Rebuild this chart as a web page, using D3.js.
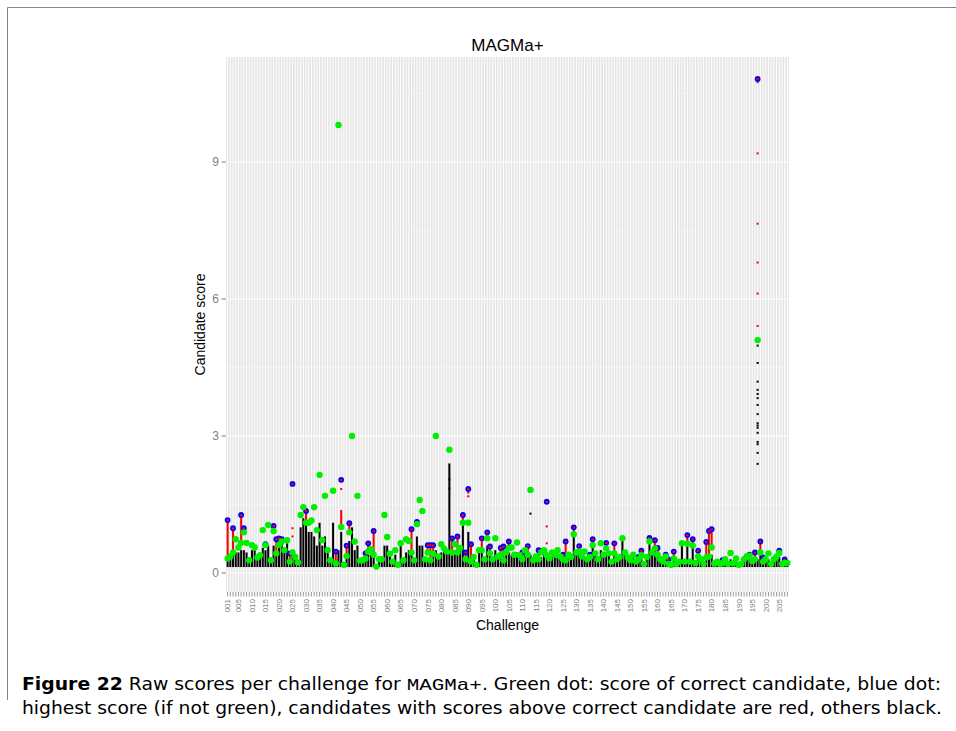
<!DOCTYPE html>
<html>
<head>
<meta charset="UTF-8">
<title>MAGMa+ raw scores per challenge</title>
<script src="https://cdnjs.cloudflare.com/ajax/libs/d3/7.8.5/d3.min.js"></script>
<style>
    body { margin: 0; background: #fff; }
    text { font-family: "Liberation Sans", Arial, sans-serif; }
</style>
</head>
<body>
<script>

// challenge ids 001 .. 208
var challenges = d3.range(1, 209).map(function(i) { return String(i).padStart(3, "0"); });

// score of the correct candidate (green dot)
var correct = [
    .32,.36,.45,.74,.56,.66,.89,.66,.28,.61,
    .56,.34,.39,.94,.61,1.05,.28,.92,.43,.61,
    .69,.50,.72,.25,.45,.35,.23,1.27,1.44,1.10,
    1.10,1.15,1.44,.94,2.15,.72,1.69,.50,.28,1.80,
    .21,9.81,1.01,.18,.37,.89,3.00,.69,1.69,.27,
    .28,.32,.47,.52,.40,.14,.30,.30,1.27,.79,
    .42,.25,.50,.18,.65,.28,.74,.70,.45,.28,
    1.07,1.60,1.36,.30,.45,.28,.42,3.00,.36,.63,
    .54,.47,2.70,.45,.63,.45,.55,1.10,.30,1.10,
    .25,.35,.18,.50,.50,.30,.76,.43,.30,.76,
    .36,.40,.28,.45,.55,.56,.40,.67,.39,.30,
    .50,.40,1.82,.28,.36,.30,.45,.50,.39,.32,
    .45,.40,.50,.36,.30,.28,.40,.35,.85,.45,
    .47,.36,.47,.30,.35,.61,.43,.30,.65,.40,
    .54,.43,.25,.43,.30,.35,.76,.45,.34,.28,
    .40,.25,.30,.39,.20,.35,.69,.45,.54,.40,
    .30,.25,.36,.20,.18,.32,.20,.25,.65,.25,
    .64,.25,.60,.22,.36,.30,.20,.34,.36,.56,
    .21,.25,.20,.22,.30,.20,.44,.22,.32,.18,
    .20,.30,.37,.38,.26,.30,5.10,.45,.25,.30,
    .43,.20,.30,.36,.44,.20,.22,.22
];

// highest candidate score (blue dot when above the correct one)
var best = [
    1.16,.36,.98,.74,.56,1.27,.98,.66,.28,.61,
    .56,.34,.39,.94,.63,1.05,.28,1.03,.74,.76,
    .74,.50,.72,.43,1.95,.35,.23,1.27,1.44,1.36,
    1.10,1.15,1.44,.94,2.15,.72,1.69,.50,.28,1.80,
    .47,9.81,2.04,.18,.60,1.09,3.00,.69,1.69,.27,
    .28,.43,.65,.52,.92,.14,.30,.30,1.27,.79,
    .42,.25,.50,.18,.65,.28,.74,.70,.96,.28,
    1.12,1.60,1.36,.30,.61,.61,.61,3.00,.36,.63,
    .54,.47,2.70,.76,.63,.80,.55,1.27,.45,1.84,
    .63,.35,.18,.50,.76,.30,.89,.58,.30,.76,
    .36,.55,.58,.45,.69,.56,.40,.67,.39,.45,
    .50,.59,1.82,.28,.36,.50,.45,.50,1.56,.32,
    .45,.42,.50,.36,.40,.69,.40,.35,1.00,.45,
    .59,.36,.47,.30,.40,.74,.43,.30,.65,.40,
    .66,.43,.25,.65,.30,.35,.76,.45,.34,.28,
    .40,.25,.35,.49,.20,.35,.77,.45,.72,.55,
    .30,.25,.40,.30,.18,.47,.20,.25,.65,.25,
    .83,.25,.74,.22,.49,.30,.20,.68,.92,.96,
    .21,.25,.20,.28,.30,.20,.44,.22,.32,.18,
    .20,.30,.37,.40,.26,.45,10.82,.69,.34,.30,
    .43,.20,.30,.36,.49,.20,.30,.22
];

// top of the dense block of black (below correct) candidates
var blackTop = [
    .40,.35,.40,.45,.45,.50,.50,.45,.35,.50,
    .50,.45,.40,.55,.50,.60,.45,.60,.55,.70,
    .70,.60,.65,.45,.50,.50,.50,1.00,1.20,1.10,
    .90,.90,.80,.60,1.10,.60,.80,.50,.50,1.10,
    .30,.50,.90,.30,.40,.70,1.00,.50,.60,.30,
    .30,.35,.40,.40,.40,.20,.30,.35,.60,.60,
    .40,.40,.40,.30,.60,.35,.45,.50,.45,.35,
    .80,.60,.60,.30,.30,.30,.35,.50,.35,.45,
    .50,.50,2.40,.50,.50,.50,.60,1.10,.50,.90,
    .45,.40,.40,.45,.50,.40,.60,.45,.35,.50,
    .40,.40,.40,.40,.45,.40,.45,.45,.40,.35,
    .40,.40,.40,.35,.35,.35,.35,.40,.35,.35,
    .35,.35,.35,.35,.35,.35,.35,.40,.80,.40,
    .40,.35,.35,.35,.35,.60,.40,.35,.50,.40,
    .45,.40,.35,.45,.35,.35,.70,.40,.35,.35,
    .35,.30,.35,.40,.30,.40,.70,.45,.50,.40,
    .35,.30,.35,.30,.30,.35,.30,.30,.60,.35,
    .64,.30,.60,.30,.40,.30,.30,.35,.35,.40,
    .30,.30,.25,.25,.30,.25,.30,.25,.25,.25,
    .25,.30,.30,.30,.30,.35,.30,.40,.30,.30,
    .30,.25,.30,.30,.35,.30,.30,.30
];

var lowestScore = 0.13;

// columns where the red candidates are scattered, not a dense block: [challenge, top of dense red]
var redTopOverride = [[25, .45], [43, 1.38], [90, 1.15], [119, .39], [197, 5.10]];

// scattered single candidates [challenge, score]
var extraRed = [[25, .98], [25, .80], [43, 1.84], [90, 1.76], [90, 1.68], [119, 1.02], [119, .65],
    [197, 5.41], [197, 6.12], [197, 6.80], [197, 7.65], [197, 9.19], [197, 10.75]];
var extraBlack = [[113, 1.30], [83, 2.05], [83, 1.85],
    [197, 4.98], [197, 4.60], [197, 4.19], [197, 4.01], [197, 3.92], [197, 3.83], [197, 3.68],
    [197, 3.48], [197, 3.28], [197, 3.23], [197, 3.18], [197, 3.07], [197, 2.87], [197, 2.82],
    [197, 2.63], [197, 2.39]];

var yTicks = [0, 3, 6, 9];
var yMinor = [1.5, 4.5, 7.5, 10.5];

var width = 956, height = 731;
var pLeft = 226, pRight = 789, pTop = 57, pBottom = 592;

var svg = d3.select("body").append("svg")
        .attr("width", width)
        .attr("height", height);

svg.append("rect").attr("width", width).attr("height", height).attr("fill", "#fff");

// page frame
svg.append("path")
        .attr("d", "M7.5,700V7.5H956")
        .attr("fill", "none")
        .attr("stroke", "#7b8799")
        .attr("stroke-width", 1);

var x = d3.scalePoint()
        .domain(challenges)
        .range([pLeft, pRight])
        .padding(0.6);

var y = d3.scaleLinear()
        .domain([-0.416, 11.30])
        .range([pBottom, pTop]);

// panel
svg.append("rect")
        .attr("x", pLeft).attr("y", pTop)
        .attr("width", pRight - pLeft).attr("height", pBottom - pTop)
        .attr("fill", "#e5e5e5");

svg.append("g").selectAll("line")
        .data(yMinor).enter().append("line")
        .attr("x1", pLeft).attr("x2", pRight)
        .attr("y1", function(d) { return y(d); })
        .attr("y2", function(d) { return y(d); })
        .attr("stroke", "#f2f2f2").attr("stroke-width", 0.6);

svg.append("g").selectAll("line")
        .data(challenges).enter().append("line")
        .attr("x1", function(d) { return x(d); })
        .attr("x2", function(d) { return x(d); })
        .attr("y1", pTop).attr("y2", pBottom)
        .attr("stroke", "#fff").attr("stroke-width", 1);

svg.append("g").selectAll("line")
        .data(yTicks).enter().append("line")
        .attr("x1", pLeft).attr("x2", pRight)
        .attr("y1", function(d) { return y(d); })
        .attr("y2", function(d) { return y(d); })
        .attr("stroke", "#fff").attr("stroke-width", 1.1);

// per challenge table built from the arrays
var rows = challenges.map(function(c, i) {
    var over = redTopOverride.find(function(o) { return o[0] === i + 1; });
    return {
        id: c,
        correct: correct[i],
        best: best[i],
        black: Math.min(blackTop[i], correct[i]),
        redTop: over ? over[1] : best[i]
    };
});

var bw = 2.0;
var marks = svg.append("g");

// black candidates
marks.selectAll(".blk").data(rows).enter().append("rect")
        .attr("x", function(d) { return x(d.id) - bw / 2; })
        .attr("y", function(d) { return y(d.black); })
        .attr("width", bw)
        .attr("height", function(d) { return Math.max(1.5, y(lowestScore) - y(d.black)); })
        .attr("fill", "#000");

marks.selectAll(".blkx").data(extraBlack).enter().append("rect")
        .attr("x", function(d) { return x(challenges[d[0] - 1]) - bw / 2; })
        .attr("y", function(d) { return y(d[1]) - 1; })
        .attr("width", bw).attr("height", 2)
        .attr("fill", "#000");

// red candidates, above the correct one
marks.selectAll(".red").data(rows.filter(function(d) { return d.redTop > d.correct; })).enter().append("rect")
        .attr("x", function(d) { return x(d.id) - bw / 2; })
        .attr("y", function(d) { return y(d.redTop); })
        .attr("width", bw)
        .attr("height", function(d) { return y(d.correct) - y(d.redTop); })
        .attr("fill", "#ff0000");

marks.selectAll(".redx").data(extraRed).enter().append("rect")
        .attr("x", function(d) { return x(challenges[d[0] - 1]) - bw / 2; })
        .attr("y", function(d) { return y(d[1]) - 1; })
        .attr("width", bw).attr("height", 2)
        .attr("fill", "#ff0000");

// blue: highest score when it is not the correct one
var top1 = rows.filter(function(d) { return d.best > d.correct; });
marks.selectAll(".blue").data(top1).enter().append("circle")
        .attr("cx", function(d) { return x(d.id); })
        .attr("cy", function(d) { return y(d.best); })
        .attr("r", 2.9)
        .attr("fill", "#0000ff");
marks.selectAll(".bluec").data(top1).enter().append("rect")
        .attr("x", function(d) { return x(d.id) - 1.2; })
        .attr("y", function(d) { return y(d.best) - 0.8; })
        .attr("width", 2.4).attr("height", 2)
        .attr("fill", "#ff0000");

// green: correct candidate
marks.selectAll(".green").data(rows).enter().append("circle")
        .attr("cx", function(d) { return x(d.id); })
        .attr("cy", function(d) { return y(d.correct); })
        .attr("r", 3.2)
        .attr("fill", "#00ee00");

// axes
var axisColor = "#7f7f7f";
var ya = svg.append("g");
ya.selectAll("line").data(yTicks).enter().append("line")
        .attr("x1", pLeft - 4.5).attr("x2", pLeft)
        .attr("y1", function(d) { return y(d); })
        .attr("y2", function(d) { return y(d); })
        .attr("stroke", axisColor).attr("stroke-width", 1);
ya.selectAll("text").data(yTicks).enter().append("text")
        .attr("x", pLeft - 7).attr("y", function(d) { return y(d); })
        .attr("dy", "0.36em")
        .attr("text-anchor", "end")
        .attr("font-size", "12px")
        .attr("fill", axisColor)
        .text(function(d) { return d; });

var xa = svg.append("g");
xa.selectAll("line").data(challenges).enter().append("line")
        .attr("x1", function(d) { return x(d); })
        .attr("x2", function(d) { return x(d); })
        .attr("y1", pBottom).attr("y2", pBottom + 4.5)
        .attr("stroke", axisColor).attr("stroke-width", 0.8);
xa.selectAll("text")
        .data(challenges.filter(function(d, i) { return i === 0 || (i + 1) % 5 === 0; }))
        .enter().append("text")
        .attr("transform", function(d) { return "translate(" + x(d) + "," + (pBottom + 7) + ") rotate(-90)"; })
        .attr("dy", "0.35em")
        .attr("text-anchor", "end")
        .attr("font-size", "8px")
        .attr("fill", axisColor)
        .text(function(d) { return d; });

// titles
svg.append("text")
        .attr("x", (pLeft + pRight) / 2).attr("y", 51)
        .attr("text-anchor", "middle")
        .attr("font-size", "17px")
        .text("MAGMa+");

svg.append("text")
        .attr("x", (pLeft + pRight) / 2).attr("y", 630)
        .attr("text-anchor", "middle")
        .attr("font-size", "14px")
        .text("Challenge");

svg.append("text")
        .attr("transform", "translate(205," + ((pTop + pBottom) / 2) + ") rotate(-90)")
        .attr("text-anchor", "middle")
        .attr("font-size", "14px")
        .text("Candidate score");

// caption
var capFont = '"Liberation Sans Narrow", "DejaVu Sans Condensed", "Liberation Sans", sans-serif';
var cap1 = svg.append("text")
        .attr("x", 22).attr("y", 690)
        .attr("font-size", "17px")
        .style("font-family", capFont)
        .attr("textLength", 919)
        .attr("lengthAdjust", "spacingAndGlyphs");
cap1.append("tspan").attr("font-weight", "bold").text("Figure 22");
cap1.append("tspan").text(" Raw scores per challenge for ");
cap1.append("tspan").style("font-family", '"Liberation Mono", "DejaVu Sans Mono", monospace').text("MAGMa+");
cap1.append("tspan").text(". Green dot: score of correct candidate, blue dot:");

svg.append("text")
        .attr("x", 22).attr("y", 714)
        .attr("font-size", "17px")
        .style("font-family", capFont)
        .attr("textLength", 920)
        .attr("lengthAdjust", "spacingAndGlyphs")
        .text("highest score (if not green), candidates with scores above correct candidate are red, others black.");

</script>
</body>
</html>
